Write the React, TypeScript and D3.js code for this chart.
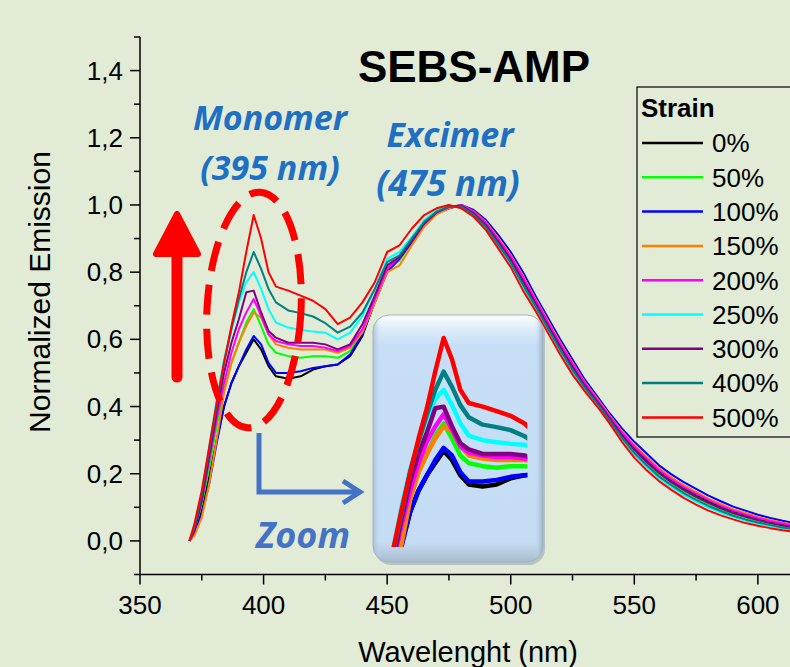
import * as d3 from 'd3';

// wavelength grid (nm)
const wavelengths = [370, 372, 375, 378, 381, 384, 387, 390, 393, 396, 399, 402, 405, 410, 415, 420, 425, 430, 435, 440,
  445, 450, 455, 460, 465, 470, 475, 480, 485, 490, 495, 500, 505, 510, 515, 520, 525, 530, 535, 540,
  545, 550, 555, 560, 565, 570, 575, 580, 585, 590, 595, 600, 605, 610, 615, 620];

const strains = ['0%', '50%', '100%', '150%', '200%', '250%', '300%', '400%', '500%'];
const strainColors = ['#000000', '#00ff00', '#0000ff', '#ff8000', '#ff00ff', '#00ffff', '#800080', '#008080', '#ff0000'];

const strain0 = [0.0, 0.02, 0.09, 0.19, 0.30, 0.40, 0.47, 0.52, 0.56, 0.60, 0.57, 0.52, 0.49, 0.483, 0.49, 0.51, 0.52, 0.525, 0.55, 0.61,
  0.715, 0.81, 0.84, 0.89, 0.94, 0.975, 0.99, 1.0, 0.978, 0.943, 0.894, 0.842, 0.778, 0.712, 0.647, 0.582, 0.522, 0.466, 0.418, 0.368,
  0.319, 0.276, 0.24, 0.206, 0.18, 0.156, 0.136, 0.117, 0.101, 0.087, 0.075, 0.065, 0.056, 0.049, 0.043, 0.038];
const strain50 = [0.0, 0.03, 0.11, 0.22, 0.34, 0.45, 0.53, 0.59, 0.65, 0.69, 0.64, 0.585, 0.56, 0.55, 0.545, 0.55, 0.55, 0.545, 0.565, 0.62,
  0.72, 0.81, 0.835, 0.89, 0.94, 0.975, 0.993, 1.0, 0.974, 0.938, 0.888, 0.835, 0.77, 0.705, 0.64, 0.575, 0.515, 0.46, 0.413, 0.363,
  0.313, 0.269, 0.232, 0.199, 0.173, 0.149, 0.129, 0.11, 0.095, 0.081, 0.07, 0.06, 0.051, 0.044, 0.039, 0.034];
const strain100 = [0.0, 0.02, 0.08, 0.17, 0.29, 0.40, 0.47, 0.52, 0.57, 0.61, 0.585, 0.53, 0.50, 0.50, 0.505, 0.515, 0.52, 0.525, 0.555, 0.615,
  0.71, 0.80, 0.84, 0.89, 0.94, 0.975, 0.99, 1.0, 0.985, 0.955, 0.91, 0.86, 0.80, 0.73, 0.665, 0.60, 0.54, 0.48, 0.43, 0.38,
  0.335, 0.295, 0.26, 0.225, 0.198, 0.175, 0.155, 0.135, 0.118, 0.102, 0.09, 0.078, 0.068, 0.06, 0.053, 0.048];
const strain150 = [0.0, 0.015, 0.07, 0.17, 0.30, 0.44, 0.53, 0.59, 0.64, 0.68, 0.665, 0.615, 0.585, 0.575, 0.57, 0.57, 0.57, 0.56, 0.575, 0.62,
  0.71, 0.80, 0.82, 0.88, 0.935, 0.972, 0.99, 1.0, 0.981, 0.949, 0.902, 0.851, 0.789, 0.721, 0.656, 0.591, 0.531, 0.473, 0.424, 0.374,
  0.327, 0.286, 0.25, 0.216, 0.189, 0.166, 0.146, 0.126, 0.11, 0.094, 0.083, 0.071, 0.062, 0.054, 0.048, 0.043];
const strain200 = [0.0, 0.03, 0.12, 0.24, 0.36, 0.47, 0.56, 0.63, 0.68, 0.72, 0.67, 0.615, 0.595, 0.585, 0.58, 0.58, 0.575, 0.565, 0.58, 0.63,
  0.72, 0.81, 0.845, 0.895, 0.945, 0.978, 0.993, 1.0, 0.98, 0.946, 0.898, 0.847, 0.784, 0.717, 0.652, 0.587, 0.527, 0.47, 0.421, 0.371,
  0.323, 0.281, 0.245, 0.211, 0.184, 0.161, 0.141, 0.122, 0.105, 0.091, 0.079, 0.068, 0.059, 0.052, 0.045, 0.041];
const strain250 = [0.0, 0.04, 0.14, 0.28, 0.42, 0.54, 0.63, 0.71, 0.77, 0.80, 0.75, 0.69, 0.65, 0.635, 0.628, 0.623, 0.62, 0.60, 0.62, 0.67,
  0.75, 0.84, 0.86, 0.905, 0.955, 0.985, 0.998, 0.992, 0.969, 0.931, 0.878, 0.824, 0.756, 0.694, 0.629, 0.564, 0.504, 0.452, 0.406, 0.356,
  0.303, 0.257, 0.22, 0.187, 0.161, 0.137, 0.117, 0.099, 0.084, 0.072, 0.06, 0.052, 0.044, 0.038, 0.032, 0.029];
const strain300 = [0.0, 0.03, 0.12, 0.25, 0.38, 0.50, 0.59, 0.66, 0.74, 0.745, 0.68, 0.625, 0.605, 0.59, 0.59, 0.59, 0.585, 0.57, 0.585, 0.645,
  0.73, 0.82, 0.845, 0.895, 0.945, 0.978, 0.995, 0.998, 0.975, 0.94, 0.89, 0.838, 0.772, 0.708, 0.642, 0.578, 0.518, 0.462, 0.415, 0.365,
  0.315, 0.272, 0.235, 0.202, 0.175, 0.152, 0.131, 0.113, 0.097, 0.083, 0.072, 0.062, 0.053, 0.046, 0.04, 0.036];
const strain400 = [0.0, 0.04, 0.14, 0.27, 0.40, 0.53, 0.63, 0.72, 0.80, 0.86, 0.81, 0.75, 0.71, 0.686, 0.678, 0.668, 0.648, 0.62, 0.638, 0.68,
  0.75, 0.83, 0.85, 0.90, 0.95, 0.98, 0.995, 0.995, 0.971, 0.934, 0.882, 0.829, 0.762, 0.699, 0.634, 0.569, 0.509, 0.456, 0.409, 0.359,
  0.307, 0.262, 0.225, 0.192, 0.166, 0.142, 0.122, 0.104, 0.089, 0.075, 0.064, 0.055, 0.047, 0.04, 0.035, 0.031];
const strain500 = [0.0, 0.05, 0.15, 0.28, 0.41, 0.53, 0.64, 0.74, 0.86, 0.97, 0.90, 0.80, 0.757, 0.745, 0.73, 0.715, 0.69, 0.645, 0.665, 0.71,
  0.77, 0.86, 0.88, 0.93, 0.97, 0.99, 1.0, 0.99, 0.965, 0.925, 0.87, 0.815, 0.745, 0.685, 0.62, 0.555, 0.495, 0.445, 0.40, 0.35,
  0.295, 0.248, 0.21, 0.178, 0.152, 0.128, 0.108, 0.09, 0.076, 0.064, 0.053, 0.045, 0.038, 0.032, 0.027, 0.024];

const seriesValues = [strain0, strain50, strain100, strain150, strain200, strain250, strain300, strain400, strain500];

const xTicks = [350, 400, 450, 500, 550, 600];
const xMinorTicks = [375, 425, 475, 525, 575];
const yTicks = [0, 0.2, 0.4, 0.6, 0.8, 1.0, 1.2, 1.4];
const yMinorTicks = [-0.1, 0.1, 0.3, 0.5, 0.7, 0.9, 1.1, 1.3, 1.5];

const W = 790;
const H = 667;
const BG = '#e1ebd6';
const FONT = '"Liberation Sans", Arial, sans-serif';
const ANNOT = '"Open Sans", "DejaVu Sans", sans-serif';

export default function App() {
  const x = d3.scaleLinear().domain([350, 613]).range([140, 790]);
  const y = d3.scaleLinear().domain([-0.1, 1.5]).range([574.5, 37]);

  // inset zoom of the monomer band
  const xi = d3.scaleLinear().domain([372, 426]).range([376.7, 527.3]);
  const yi = d3.scaleLinear().domain([0.285, 0.97]).range([547, 338]);

  const line = d3.line<number>()
    .x((_, i) => x(wavelengths[i]))
    .y(d => y(d));
  const insetLine = d3.line<number>()
    .x((_, i) => xi(wavelengths[i]))
    .y(d => yi(d));

  const fmt = (v: number) => d3.format('.1f')(v).replace('.', ',');

  return (
    <svg width={W} height={H} style={{ position: 'absolute', left: 0, top: 0, background: BG }}>
      <defs>
        <linearGradient id="insetFill" x1="0" y1="0" x2="0" y2="1">
          <stop offset="0" stopColor="#fbfdff" />
          <stop offset="0.07" stopColor="#d9eaf9" />
          <stop offset="0.12" stopColor="#c7dff6" />
          <stop offset="0.92" stopColor="#c5ddf4" />
          <stop offset="1" stopColor="#a9bccd" />
        </linearGradient>
        <linearGradient id="insetSide" x1="0" y1="0" x2="1" y2="0">
          <stop offset="0" stopColor="#9fb2c4" stopOpacity="0.7" />
          <stop offset="0.05" stopColor="#c7dff6" stopOpacity="0" />
          <stop offset="0.95" stopColor="#c7dff6" stopOpacity="0" />
          <stop offset="1" stopColor="#8ea1b3" stopOpacity="0.8" />
        </linearGradient>
        <clipPath id="insetClip">
          <rect x={376} y={320} width={151.3} height={227} />
        </clipPath>
      </defs>
      <rect width={W} height={H} fill={BG} />

      {/* axes */}
      <line x1={x(350)} x2={W} y1={y(-0.1)} y2={y(-0.1)} stroke="#000" strokeWidth={1.5} />
      <line x1={x(350)} x2={x(350)} y1={y(1.5)} y2={y(-0.1)} stroke="#000" strokeWidth={1.5} />
      {xTicks.map(t => (
        <g key={t}>
          <line x1={x(t)} x2={x(t)} y1={y(-0.1)} y2={y(-0.1) + 10} stroke="#000" strokeWidth={1.5} />
          <text x={x(t)} y={614} textAnchor="middle" fontFamily={FONT} fontSize={26}>{t}</text>
        </g>
      ))}
      {xMinorTicks.map(t => (
        <line key={t} x1={x(t)} x2={x(t)} y1={y(-0.1)} y2={y(-0.1) + 6} stroke="#000" strokeWidth={1.5} />
      ))}
      {yTicks.map(t => (
        <g key={t}>
          <line x1={x(350)} x2={x(350) - 10} y1={y(t)} y2={y(t)} stroke="#000" strokeWidth={1.5} />
          <text x={123} y={y(t)} dy="0.35em" textAnchor="end" fontFamily={FONT} fontSize={26}>{fmt(t)}</text>
        </g>
      ))}
      {yMinorTicks.map(t => (
        <line key={t} x1={x(350)} x2={x(350) - 6} y1={y(t)} y2={y(t)} stroke="#000" strokeWidth={1.5} />
      ))}
      <text x={468} y={662} textAnchor="middle" fontFamily={FONT} fontSize={29}>Wavelenght (nm)</text>
      <text transform="translate(50,292) rotate(-90)" textAnchor="middle" fontFamily={FONT} fontSize={30}>Normalized Emission</text>

      {/* spectra */}
      {seriesValues.map((vals, i) => (
        <path key={strains[i]} d={line(vals) || ''} fill="none" stroke={strainColors[i]} strokeWidth={2} strokeLinejoin="round" />
      ))}

      {/* title */}
      <text x={474} y={82} textAnchor="middle" fontFamily={FONT} fontSize={44} fontWeight="bold">SEBS-AMP</text>

      {/* annotations */}
      <text x={270} y={130} textAnchor="middle" fontFamily={ANNOT} fontStyle="italic" fontWeight="bold" fontSize={34} fill="#1f6fc3">Monomer</text>
      <text x={270} y={180} textAnchor="middle" fontFamily={ANNOT} fontStyle="italic" fontWeight="bold" fontSize={34} fill="#1f6fc3">(395 nm)</text>
      <text x={450} y={147} textAnchor="middle" fontFamily={ANNOT} fontStyle="italic" fontWeight="bold" fontSize={34} fill="#1f6fc3">Excimer</text>
      <text x={448} y={196} textAnchor="middle" fontFamily={ANNOT} fontStyle="italic" fontWeight="bold" fontSize={35} fill="#1f6fc3">(475 nm)</text>

      <ellipse cx={254} cy={310} rx={47} ry={118} fill="none" stroke="#ff0000" strokeWidth={7} strokeDasharray="30 14" transform="rotate(3,254,310)" />

      <line x1={177} y1={377} x2={177} y2={240} stroke="#ff0000" strokeWidth={11} strokeLinecap="round" />
      <path d="M177,214 L156,254 L198,254 Z" fill="#ff0000" stroke="#ff0000" strokeWidth={6} strokeLinejoin="round" />

      <path d="M259,433 L259,492 L358,492" fill="none" stroke="#4472c4" strokeWidth={5} />
      <path d="M343,481 L360,492 L343,503" fill="none" stroke="#4472c4" strokeWidth={5} strokeLinejoin="miter" />
      <text x={303} y={548} textAnchor="middle" fontFamily={ANNOT} fontStyle="italic" fontWeight="bold" fontSize={36} fill="#4472c4">Zoom</text>

      {/* inset */}
      <rect x={375} y={318} width={170} height={247} rx={16} fill="#9aa8b6" opacity={0.6} />
      <rect x={373} y={315} width={170} height={247} rx={16} fill="url(#insetFill)" />
      <rect x={373} y={315} width={170} height={247} rx={16} fill="url(#insetSide)" stroke="#a3b4c4" strokeWidth={1} />
      <g clipPath="url(#insetClip)">
        {seriesValues.map((vals, i) => (
          <path key={strains[i]} d={insetLine(vals) || ''} fill="none" stroke={strainColors[i]} strokeWidth={4.5} strokeLinejoin="round" />
        ))}
      </g>

      {/* legend */}
      <rect x={637} y={87} width={170} height={350} fill={BG} stroke="#000" strokeWidth={1.2} />
      <text x={641} y={117} fontFamily={FONT} fontSize={26} fontWeight="bold">Strain</text>
      {strains.map((s, i) => (
        <g key={s} transform={`translate(0,${143 + i * 34.3})`}>
          <line x1={642} x2={703} y1={0} y2={0} stroke={strainColors[i]} strokeWidth={2.5} />
          <text x={712} y={0} dy="0.36em" fontFamily={FONT} fontSize={26}>{s}</text>
        </g>
      ))}
    </svg>
  );
}
